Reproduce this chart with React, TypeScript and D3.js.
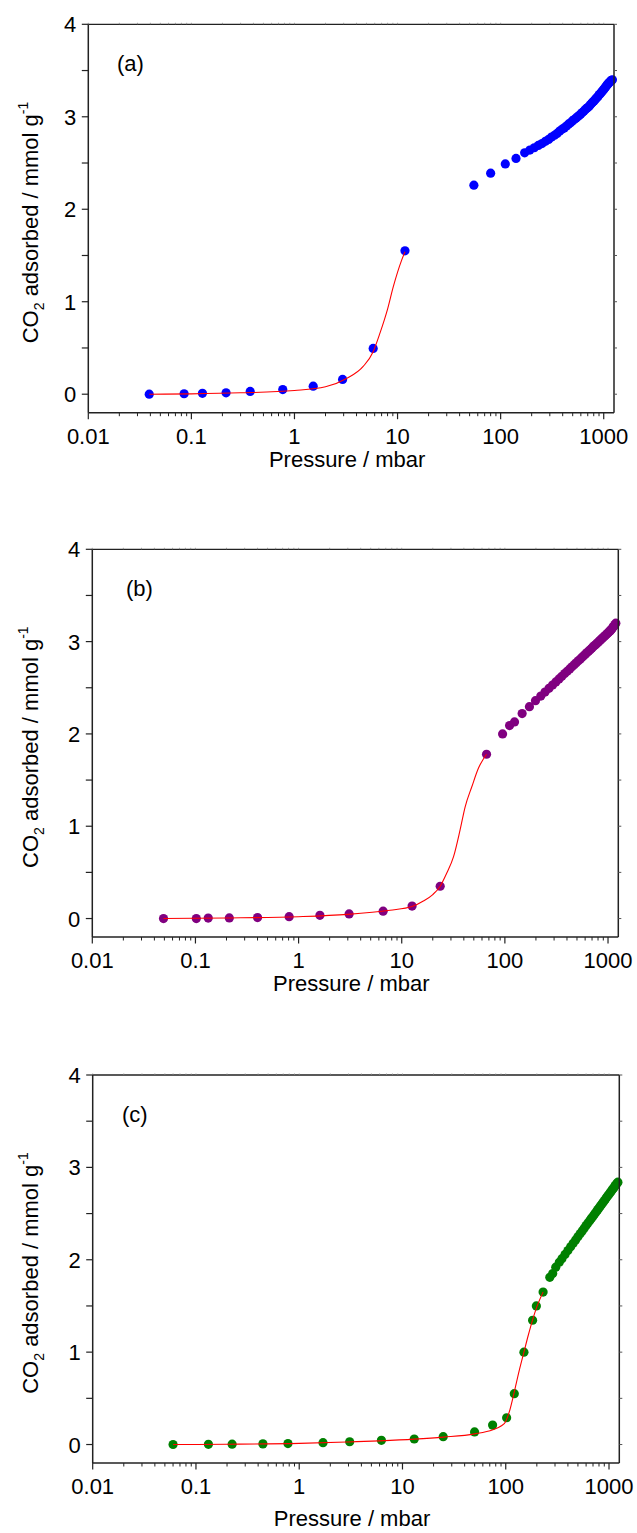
import React from "react";
import * as d3 from "d3";

// ---------- data ----------
const X_TICKS = [0.01, 0.1, 1, 10, 100, 1000];
const X_TICK_LABELS = ["0.01", "0.1", "1", "10", "100", "1000"];
const Y_TICKS = [0, 1, 2, 3, 4];
const Y_MINOR = [0.5, 1.5, 2.5, 3.5];

// Panel (a)
const A_PRESSURE = [0.039, 0.085, 0.128, 0.217, 0.372, 0.77, 1.52, 2.93, 5.8, 11.8,
  55, 80, 111, 141, 171, 192, 212, 232, 252, 272, 292, 312, 333, 353, 374, 394, 414, 435, 455, 476,
  496, 517, 537, 558, 578, 599, 619, 640, 660, 681, 701, 722, 742, 763, 783, 804, 824, 845, 865, 886,
  906, 927, 947, 968, 988, 1009, 1029, 1050, 1070, 1091, 1111, 1132, 1152, 1173, 1193, 1214];
const A_UPTAKE = [0, 0.005, 0.01, 0.015, 0.03, 0.05, 0.087, 0.16, 0.495, 1.55,
  2.26, 2.39, 2.49, 2.55, 2.61, 2.64, 2.665, 2.69, 2.71, 2.735, 2.755, 2.78, 2.8, 2.82, 2.845, 2.865, 2.88, 2.9, 2.92, 2.935,
  2.955, 2.97, 2.985, 3.0, 3.015, 3.03, 3.045, 3.06, 3.075, 3.09, 3.1, 3.115, 3.13, 3.145, 3.16, 3.17, 3.185, 3.2, 3.21, 3.225,
  3.24, 3.25, 3.265, 3.275, 3.29, 3.3, 3.315, 3.325, 3.34, 3.35, 3.36, 3.37, 3.38, 3.39, 3.395, 3.4];
const A_FIT_P = [0.039, 0.1, 0.3, 1, 2, 3.2, 4.64, 5.8, 6.75, 8, 9.08, 10.96, 11.8];
const A_FIT_Q = [0, 0.004, 0.015, 0.04, 0.08, 0.17, 0.3, 0.46, 0.66, 0.92, 1.16, 1.45, 1.54];

// Panel (b)
const B_PRESSURE = [0.049, 0.102, 0.133, 0.213, 0.4, 0.81, 1.61, 3.09, 6.6, 12.6, 23.6,
  66.4, 95, 111, 124, 147, 173, 198, 223, 245, 268, 290, 312, 335, 357, 380, 402, 425, 447, 470,
  492, 515, 537, 560, 582, 605, 627, 650, 672, 695, 717, 740, 762, 785, 807, 830, 852, 875, 897, 920,
  942, 965, 987, 1010, 1032, 1055, 1077, 1100, 1122, 1145, 1167, 1190];
const B_UPTAKE = [0, 0, 0.005, 0.007, 0.01, 0.02, 0.035, 0.05, 0.08, 0.135, 0.35,
  1.78, 2.0, 2.09, 2.13, 2.22, 2.295, 2.36, 2.41, 2.453, 2.494, 2.53, 2.563, 2.596, 2.625, 2.654, 2.679, 2.704, 2.727, 2.75,
  2.771, 2.792, 2.81, 2.83, 2.848, 2.865, 2.881, 2.898, 2.913, 2.928, 2.943, 2.957, 2.97, 2.984, 2.997, 3.01, 3.021, 3.034, 3.045, 3.057,
  3.067, 3.079, 3.089, 3.099, 3.11, 3.119, 3.13, 3.145, 3.16, 3.17, 3.185, 3.2];
const B_FIT_P = [0.049, 0.2, 1, 3, 7.7, 12.6, 16.2, 20, 23.6, 27, 31.8, 36.8, 41.2, 47.9, 55.5, 66.4];
const B_FIT_Q = [0, 0.006, 0.02, 0.045, 0.09, 0.13, 0.19, 0.26, 0.35, 0.48, 0.67, 0.96, 1.21, 1.43, 1.63, 1.78];

// Panel (c)
const C_PRESSURE = [0.06, 0.132, 0.224, 0.445, 0.778, 1.7, 3.08, 6.25, 13.0, 24.8, 49.9, 74.6, 102, 121, 150, 182, 198, 230,
  267, 285, 305, 330, 350, 375, 400, 425, 450, 475, 500, 525, 550, 575, 600, 625, 650, 675, 700, 725, 750, 775,
  800, 825, 850, 875, 900, 925, 950, 975, 1000, 1025, 1050, 1075, 1100, 1125, 1150, 1175, 1200, 1220];
const C_UPTAKE = [0, 0.002, 0.004, 0.007, 0.01, 0.02, 0.03, 0.045, 0.06, 0.085, 0.136, 0.21, 0.29, 0.55, 1.0, 1.345, 1.5, 1.65,
  1.81, 1.85, 1.92, 1.973, 2.012, 2.058, 2.1, 2.14, 2.179, 2.215, 2.249, 2.281, 2.312, 2.342, 2.37, 2.397, 2.423, 2.448, 2.472, 2.495, 2.518, 2.54,
  2.561, 2.581, 2.601, 2.621, 2.639, 2.657, 2.676, 2.693, 2.709, 2.726, 2.742, 2.757, 2.772, 2.788, 2.803, 2.817, 2.83, 2.84];
const C_FIT_P = [0.06, 0.2, 1, 3, 6, 13, 25, 50, 75, 90, 100, 108, 121, 135, 150, 165, 182, 200, 230];
const C_FIT_Q = [0, 0.003, 0.012, 0.028, 0.04, 0.058, 0.08, 0.115, 0.16, 0.2, 0.25, 0.35, 0.57, 0.8, 1.0, 1.18, 1.35, 1.49, 1.65];

const FONT = "'Liberation Sans', Arial, sans-serif";
const X_DOMAIN: [number, number] = [0.01, 1258];
const Y_DOMAIN: [number, number] = [-0.2, 4];
const FS = 22;

type PanelProps = {
  left: number; right: number; top: number; bottom: number;
  pressure: number[]; uptake: number[]; fitP: number[]; fitQ: number[];
  color: string; label: string; labelX: number; labelY: number; titleOffset: number;
};

function Panel(p: PanelProps) {
  const x = d3.scaleLog().domain(X_DOMAIN).range([p.left, p.right]);
  const y = d3.scaleLinear().domain(Y_DOMAIN).range([p.bottom, p.top]);
  const minor: number[] = [];
  [0.01, 0.1, 1, 10, 100, 1000].forEach((d) => {
    for (let k = 2; k <= 9; k++) if (d * k <= X_DOMAIN[1]) minor.push(d * k);
  });
  const line = d3.line<number>()
    .x((_, i) => x(p.fitP[i]))
    .y((v) => y(v))
    .curve(d3.curveMonotoneX);
  const axisColor = "#222";
  const midY = (p.top + p.bottom) / 2;
  return (
    <g fontFamily={FONT}>
      {p.pressure.map((d, i) => (
        <circle key={i} cx={x(d)} cy={y(p.uptake[i])} r={4.6} fill={p.color} />
      ))}
      <path d={line(p.fitQ) || ""} fill="none" stroke="#ff0000" strokeWidth={1.1} />
      <line x1={p.left} x2={p.right} y1={p.top} y2={p.top} stroke={axisColor} strokeWidth={1.3} />
      <line x1={p.right} x2={p.right} y1={p.top} y2={p.bottom} stroke={axisColor} strokeWidth={1.5} />
      <line x1={p.left} x2={p.right} y1={p.bottom} y2={p.bottom} stroke={axisColor} strokeWidth={1.5} />
      <line x1={p.left} x2={p.left} y1={p.top} y2={p.bottom} stroke={axisColor} strokeWidth={1.5} />
      {X_TICKS.map((t) => (
        <line key={"xt" + t} x1={x(t)} x2={x(t)} y1={p.bottom} y2={p.bottom + 6.5} stroke={axisColor} strokeWidth={1.2} />
      ))}
      {minor.map((t) => (
        <line key={"xm" + t} x1={x(t)} x2={x(t)} y1={p.bottom} y2={p.bottom + 3.5} stroke={axisColor} strokeWidth={1} />
      ))}
      {[...X_TICKS, ...minor].map((t) => (
        <line key={"tt" + t} x1={x(t)} x2={x(t)} y1={p.top} y2={p.top - 1.5} stroke="#888" strokeWidth={0.8} />
      ))}
      {[...Y_TICKS, ...Y_MINOR].map((t) => (
        <line key={"yt" + t} x1={p.left - 6.5} x2={p.left} y1={y(t)} y2={y(t)} stroke={axisColor} strokeWidth={1.2} />
      ))}
      {[...Y_TICKS, ...Y_MINOR].map((t) => (
        <line key={"rt" + t} x1={p.right} x2={p.right + 3} y1={y(t)} y2={y(t)} stroke="#555" strokeWidth={1} />
      ))}
      {X_TICKS.map((t, i) => (
        <text key={"xl" + t} x={x(t)} y={p.bottom + 31} fontSize={FS} textAnchor="middle" fill="#000">
          {X_TICK_LABELS[i]}
        </text>
      ))}
      {Y_TICKS.map((t) => (
        <text key={"yl" + t} x={p.left - 12} y={y(t) + 8} fontSize={FS} textAnchor="end" fill="#000">
          {t}
        </text>
      ))}
      <text x={(p.left + p.right) / 2 - 4} y={p.bottom + p.titleOffset} fontSize={FS} textAnchor="middle" fill="#000">
        Pressure / mbar
      </text>
      <text transform={`translate(38,${midY + 4}) rotate(-90)`} fontSize={FS} textAnchor="middle" fill="#000">
        CO<tspan fontSize={14} dy={6}>2</tspan>
        <tspan dy={-6}> adsorbed / mmol g</tspan>
        <tspan fontSize={14} dy={-10}>-1</tspan>
      </text>
      <text x={p.labelX} y={p.labelY} fontSize={FS} fill="#000">{p.label}</text>
    </g>
  );
}

export default function App() {
  return (
    <svg width={637} height={1533} style={{ position: "absolute", left: 0, top: 0, background: "#fff" }}>
      <rect width={637} height={1533} fill="#fff" />
      <Panel left={88.3} right={614} top={24.3} bottom={412.7}
        pressure={A_PRESSURE} uptake={A_UPTAKE} fitP={A_FIT_P} fitQ={A_FIT_Q}
        color="#0000ff" label="(a)" labelX={117} labelY={71} titleOffset={54} />
      <Panel left={92.3} right={618.3} top={549.3} bottom={937}
        pressure={B_PRESSURE} uptake={B_UPTAKE} fitP={B_FIT_P} fitQ={B_FIT_Q}
        color="#800080" label="(b)" labelX={126} labelY={596} titleOffset={54} />
      <Panel left={92.7} right={619.3} top={1075} bottom={1463}
        pressure={C_PRESSURE} uptake={C_UPTAKE} fitP={C_FIT_P} fitQ={C_FIT_Q}
        color="#008000" label="(c)" labelX={122} labelY={1122} titleOffset={63} />
    </svg>
  );
}
